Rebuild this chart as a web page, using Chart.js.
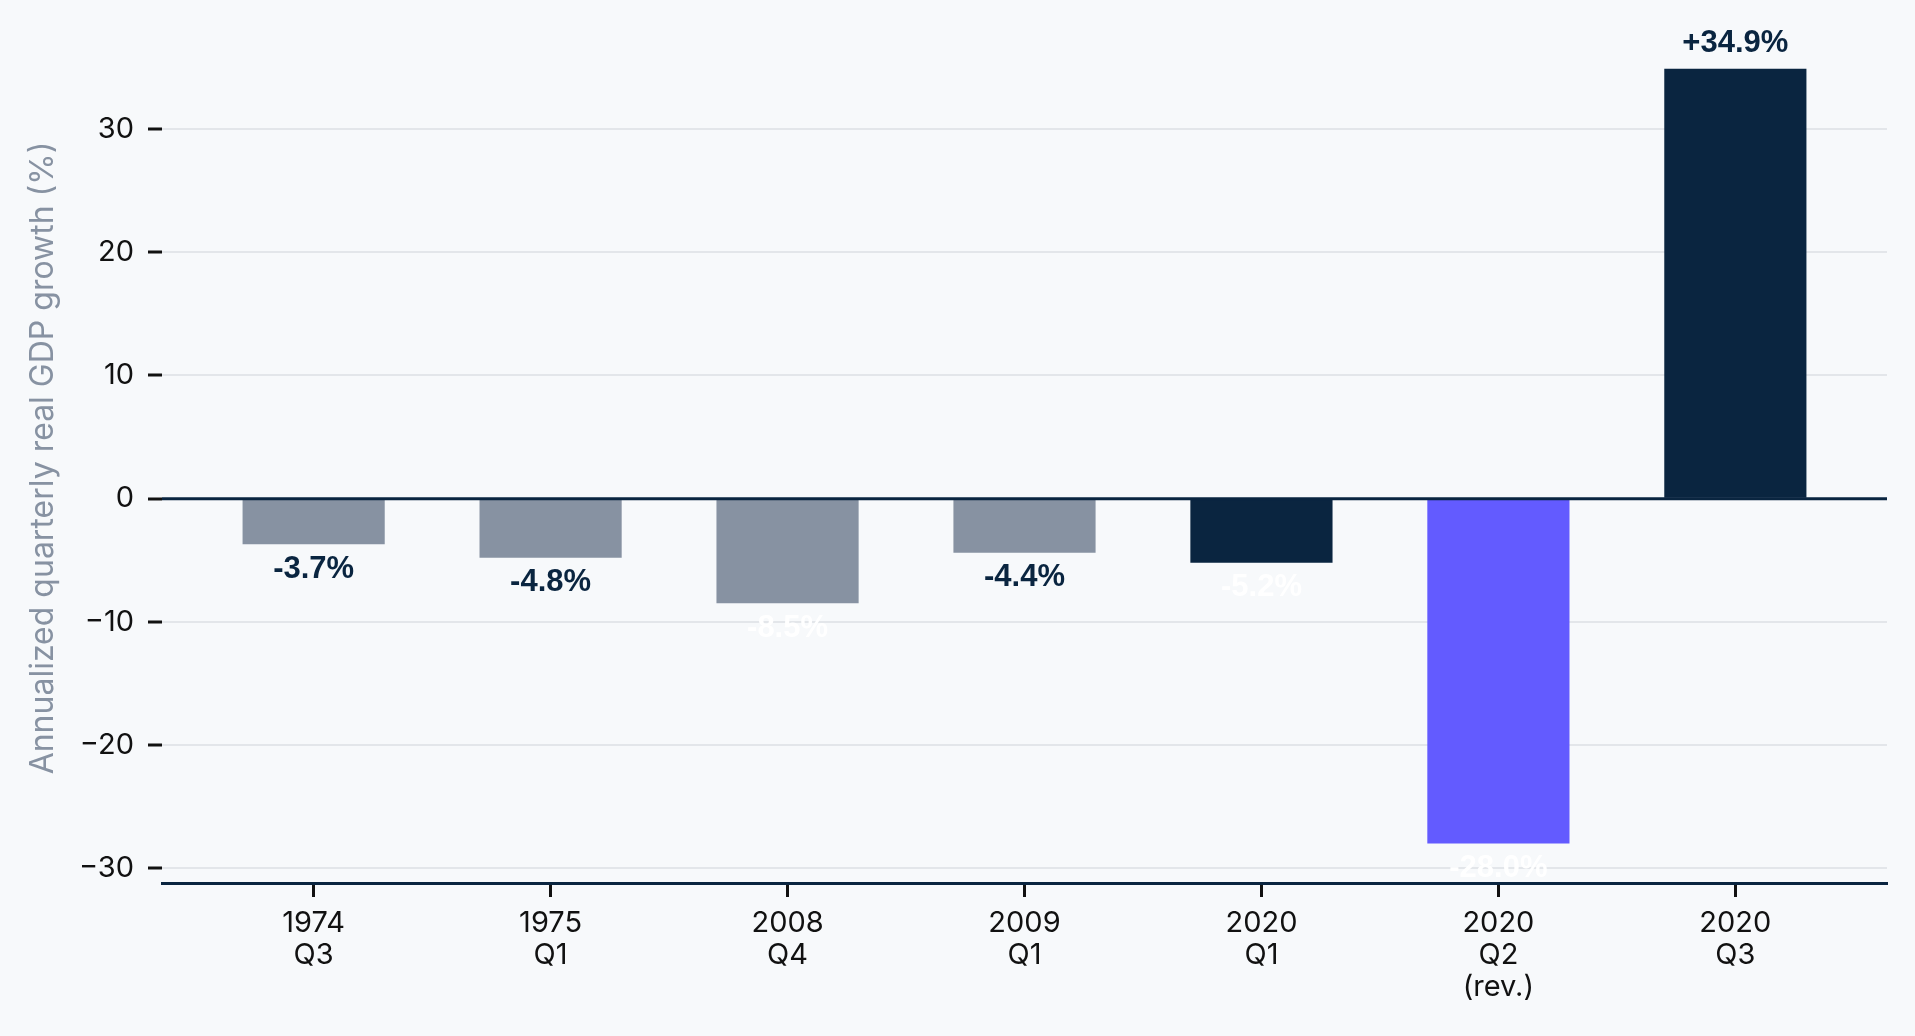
<!DOCTYPE html>
<html>
<head>
<meta charset="utf-8">
<script src="https://cdn.jsdelivr.net/npm/chart.js@4.4.1/dist/chart.umd.min.js"></script>
<style>
  html, body { margin:0; padding:0; background:#F7F9FB; overflow:hidden; }
  #wrap { width:1915px; height:1036px; position:relative; }
</style>
</head>
<body>
<div id="wrap"><canvas id="gdpChart" width="1915" height="1036"></canvas></div>
<script>
// PIB trimestral anualizado - peores trimestres vs 2020
const quarters = [['1974','Q3'], ['1975','Q1'], ['2008','Q4'], ['2009','Q1'], ['2020','Q1'], ['2020','Q2','(rev.)'], ['2020','Q3']];
const growth = [-3.7, -4.8, -8.5, -4.4, -5.2, -28.0, 34.9];
const barColors = ['#8792A2','#8792A2','#8792A2','#8792A2','#0A2540','#635BFF','#0A2540'];
const labelColors = ['#0A2540','#0A2540','#FFFFFF','#0A2540','#FFFFFF','#FFFFFF','#0A2540'];
const yTicks = [-30, -20, -10, 0, 10, 20, 30];

const NAVY = '#0A2540';

function fmt(v){
  return (v > 0 ? '+' : '') + v.toFixed(1) + '%';
}

// linea del cero encima de las barras + etiquetas de valor
const overlay = {
  id: 'overlay',
  afterDatasetsDraw(chart){
    const ctx = chart.ctx;
    const y = chart.scales.y;
    const area = chart.chartArea;
    const y0 = y.getPixelForValue(0);
    ctx.save();
    ctx.strokeStyle = NAVY;
    ctx.lineWidth = 3;
    ctx.beginPath();
    ctx.moveTo(area.left, y0);
    ctx.lineTo(area.right, y0);
    ctx.stroke();

    ctx.font = 'bold 31px "Liberation Sans", Arial, sans-serif';
    ctx.textAlign = 'center';
    ctx.textBaseline = 'middle';
    const meta = chart.getDatasetMeta(0);
    meta.data.forEach((bar, i) => {
      const v = growth[i];
      ctx.fillStyle = labelColors[i];
      const ty = v >= 0 ? bar.y - 25 : bar.y + 25;
      ctx.fillText(fmt(v), bar.x, ty);
    });
    ctx.restore();
  }
};

const ctx = document.getElementById('gdpChart').getContext('2d');
new Chart(ctx, {
  type: 'bar',
  data: {
    datasets: [{
      data: growth.map((v, i) => ({ x: i, y: v })),
      backgroundColor: barColors,
      borderWidth: 0,
      barPercentage: 0.6,
      categoryPercentage: 1.0
    }]
  },
  options: {
    responsive: false,
    animation: false,
    devicePixelRatio: 1,
    layout: { padding: { top: 33, right: 28, left: 0, bottom: 0 } },
    plugins: { legend: { display:false }, tooltip: { enabled:false } },
    scales: {
      x: {
        type: 'linear',
        offset: false,
        min: -0.64,
        max: 6.64,
        afterBuildTicks: s => { s.ticks = quarters.map((q, i) => ({ value: i })); },
        afterFit: s => { s.height = 153; },
        grid: { offset: false, drawOnChartArea: false, drawTicks: true, tickLength: 14, tickWidth: 3, tickColor: '#111111' },
        border: { display: true, color: NAVY, width: 3 },
        ticks: {
          autoSkip: false,
          maxRotation: 0,
          padding: 10,
          color: '#111111',
          font: { family: 'Inter, "Noto Sans", sans-serif', size: 29, lineHeight: '32px' },
          callback: (v) => quarters[v] || ''
        }
      },
      y: {
        min: -31.2,
        max: 37.8,
        afterBuildTicks: s => { s.ticks = yTicks.map(v => ({ value: v })); },
        afterFit: s => { s.width = 162; },
        grid: { color: '#E3E6EA', lineWidth: 2, tickColor: '#111111', tickLength: 14, tickWidth: 3 },
        border: { display: false },
        ticks: {
          padding: 14,
          color: '#111111',
          font: { family: 'Inter, "Noto Sans", sans-serif', size: 29 },
          callback: v => v < 0 ? '\u2212' + Math.abs(v) : String(v)
        },
        title: {
          display: true,
          text: 'Annualized quarterly real GDP growth (%)',
          color: '#8792A2',
          font: { family: 'Inter, "Noto Sans", sans-serif', size: 32 },
          padding: { top: 24, bottom: 0 }
        }
      }
    }
  },
  plugins: [overlay]
});
</script>
</body>
</html>
